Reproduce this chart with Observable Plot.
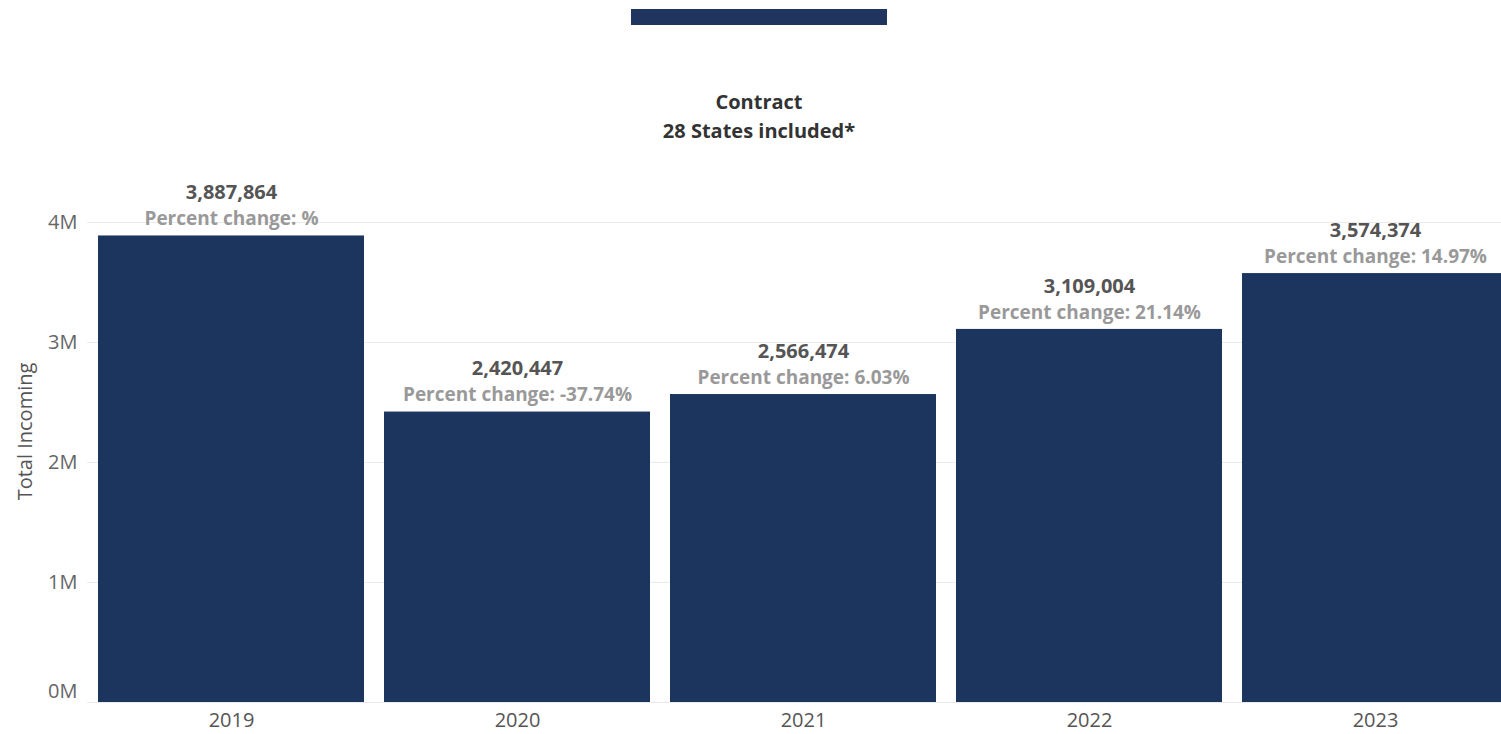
<!DOCTYPE html>
<html>
<head>
<meta charset="utf-8">
<script src="https://cdn.jsdelivr.net/npm/d3@7"></script>
<script src="https://cdn.jsdelivr.net/npm/@observablehq/plot@0.6"></script>
<style>
  html, body { margin: 0; padding: 0; background: #fff; overflow: hidden; width: 1501px; height: 734px; }
  #wrap { position: relative; width: 1501px; height: 734px; overflow: hidden; font-family: "Open Sans", sans-serif; }
  #topbar { position: absolute; left: 631px; top: 9px; width: 256px; height: 16px; background: #1f3560; }
  #title { position: absolute; left: 0; width: 1518px; top: 87px; text-align: center; font-weight: 700; font-size: 20px; line-height: 29px; color: #333; }
  #chart { position: absolute; left: 0; top: 0; }
  #chart svg { max-width: none !important; }
</style>
</head>
<body>
<div id="wrap">
  <div id="chart"></div>
  <div id="topbar"></div>
  <div id="title">Contract<br>28 States included*</div>
</div>
<script>
const years = ["2019", "2020", "2021", "2022", "2023"];
const totals = [3887864, 2420447, 2566474, 3109004, 3574374];
const pctChange = ["", "-37.74", "6.03", "21.14", "14.97"];
const yTicks = [0, 1000000, 2000000, 3000000, 4000000];
const yLabel = "Total Incoming";

const data = years.map((y, i) => ({year: y, total: totals[i], pct: pctChange[i]}));
const fmt = d3.format(",");
const mFmt = d => (d / 1e6) + "M";

const plot = Plot.plot({
  width: 1520,
  height: 734,
  marginTop: 222,
  marginBottom: 32,
  marginLeft: 87,
  marginRight: 1,
  style: {fontFamily: "Open Sans, sans-serif", fontSize: "20px", background: "transparent", maxWidth: "none"},
  x: {domain: years, paddingInner: 0.07, paddingOuter: 0.035, label: null},
  y: {domain: [0, 4000000], label: null},
  marks: [
    Plot.gridY(yTicks, {stroke: "#ebebeb", strokeOpacity: 1, strokeWidth: 1}),
    Plot.barY(data, {x: "year", y: "total", fill: "#1c355e"}),
    Plot.axisY(yTicks.slice(1), {tickSize: 0, tickPadding: 10, tickFormat: mFmt, fill: "#666", fontSize: 20, label: null}),
    Plot.axisY(yTicks.slice(0, 1), {tickSize: 0, tickPadding: 10, tickFormat: mFmt, fill: "#666", fontSize: 20, label: null, dy: -11}),
    Plot.axisX({tickSize: 0, tickPadding: 10, fill: "#555", fontSize: 20, label: null}),
    Plot.text([yLabel], {frameAnchor: "left", textAnchor: "middle", text: d => d, rotate: -90, dx: -62, dy: -31, fill: "#555", fontSize: 20}),
    Plot.text(data, {x: "year", y: "total", text: d => fmt(d.total), dy: -43, fill: "#555", fontWeight: "bold", fontSize: 20}),
    Plot.text(data, {x: "year", y: "total", text: d => "Percent change: " + d.pct + "%", dy: -17, fill: "#999", fontWeight: "bold", fontSize: 19})
  ]
});
document.getElementById("chart").appendChild(plot);
</script>
</body>
</html>
